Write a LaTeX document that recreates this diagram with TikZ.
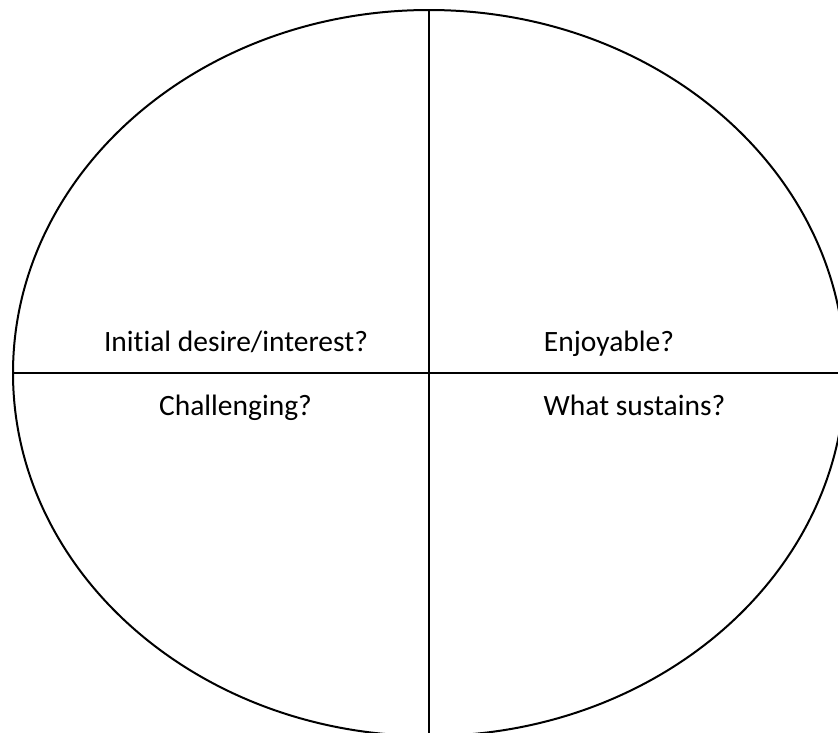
\documentclass[tikz,border=0pt]{standalone}
\usepackage{fontspec}
\setmainfont[Ligatures=NoCommon]{Carlito}
\usetikzlibrary{positioning}

\begin{document}
\begin{tikzpicture}[x=1pt, y=-1pt, line width=2pt]
      \tikzstyle{quadrant}=[font=\fontsize{29.5}{34}\selectfont, anchor=base, inner sep=0pt, text=black]
      \useasboundingbox (0,0) rectangle (838,732);
      \clip (0,0) rectangle (838,732);
      \coordinate (O) at (429,373);
      \draw (O) ellipse [x radius=416pt, y radius=363pt];
      \coordinate (top) at (429,10);
      \coordinate (bottom) at (429,740);
      \coordinate (left) at (13,373);
      \coordinate (right) at (845,373);
      \draw (top) -- (bottom);
      \draw (left) -- (right);
      \node[quadrant] (initial) at (236,351) {Initial desire/interest?};
      \node[quadrant] (enjoy) at (609,351) {Enjoyable?};
      \node[quadrant] (challenge) at (235.5,415) {Challenging?};
      \node[quadrant] (sustain) at (634.5,415) {What sustains?};
    \end{tikzpicture}
\end{document}
